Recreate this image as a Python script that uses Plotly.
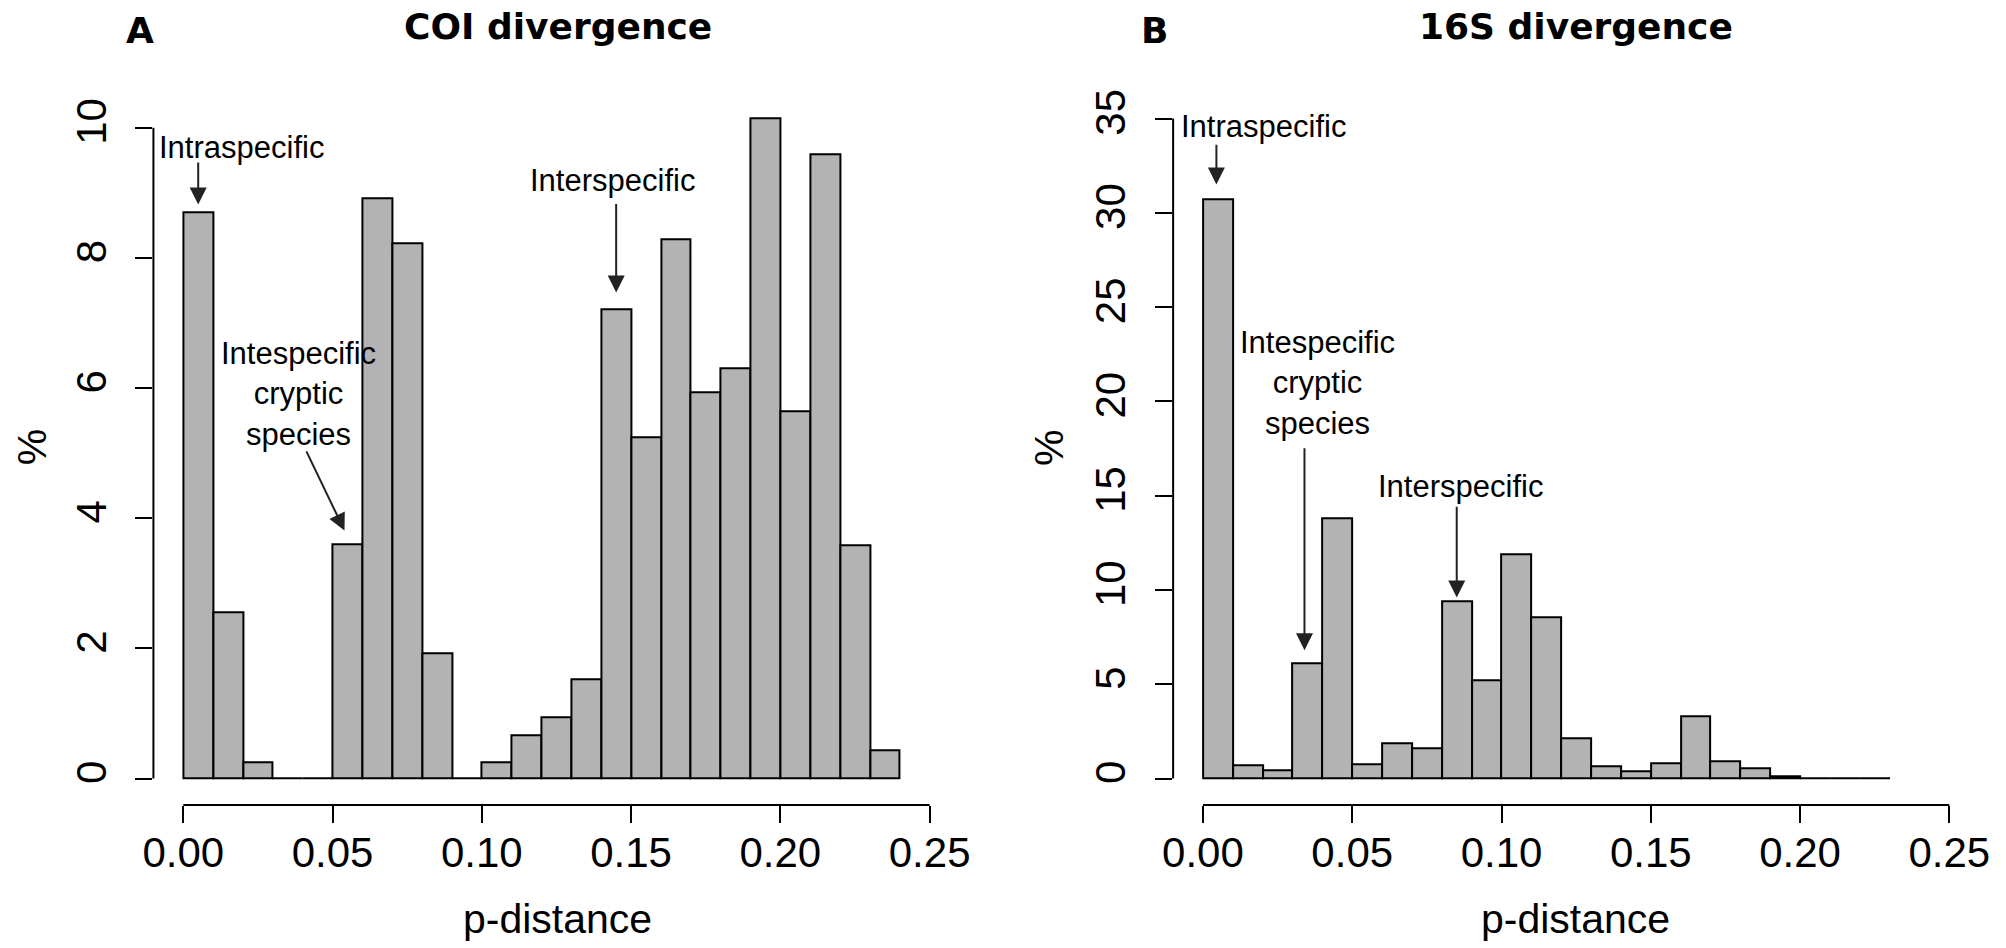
import plotly.graph_objects as go

# ---------------- data ----------------
bin_width = 0.01

coi_bin_left = [0.00, 0.01, 0.02, 0.03, 0.04, 0.05, 0.06, 0.07, 0.08, 0.09, 0.10, 0.11,
                0.12, 0.13, 0.14, 0.15, 0.16, 0.17, 0.18, 0.19, 0.20, 0.21, 0.22, 0.23]
coi_percent = [8.70, 2.55, 0.245, 0.0, 0.0, 3.60, 8.92, 8.23, 1.92, 0.0, 0.245, 0.66,
               0.94, 1.53, 7.21, 5.25, 8.28, 5.93, 6.31, 10.14, 5.65, 9.59, 3.58, 0.43]

s16_bin_left = [0.00, 0.01, 0.02, 0.03, 0.04, 0.05, 0.06, 0.07, 0.08, 0.09, 0.10, 0.11,
                0.12, 0.13, 0.14, 0.15, 0.16, 0.17, 0.18, 0.19, 0.20, 0.21, 0.22]
s16_percent = [30.71, 0.69, 0.42, 6.13, 13.81, 0.75, 1.90, 1.59, 9.41, 5.19, 11.88, 8.55,
               2.14, 0.64, 0.39, 0.83, 3.31, 0.92, 0.55, 0.10, 0.02, 0.02, 0.02]

x_tickvals = [0.00, 0.05, 0.10, 0.15, 0.20, 0.25]
x_ticktext = ["0.00", "0.05", "0.10", "0.15", "0.20", "0.25"]
coi_y_ticks = [0, 2, 4, 6, 8, 10]
s16_y_ticks = [0, 5, 10, 15, 20, 25, 30, 35]
s16_ylim = [0, 35]

# labels: (text, x, y) in data units
coi_labels = [("Intraspecific", 0.0195, 9.69),
              ("Intespecific<br>cryptic<br>species", 0.0387, 5.91),
              ("Interspecific", 0.1437, 9.19)]
s16_labels = [("Intraspecific", 0.0203, 34.6),
              ("Intespecific<br>cryptic<br>species", 0.0382, 21.0),
              ("Interspecific", 0.0862, 15.5)]
# arrows: (tail x, tail y, head x, head y)
coi_arrows = [(0.005, 9.49, 0.005, 8.82),
              (0.041, 5.05, 0.054, 3.81),
              (0.145, 8.85, 0.145, 7.47)]
s16_arrows = [(0.0045, 33.7, 0.0045, 31.5),
              (0.034, 17.6, 0.034, 6.8),
              (0.085, 14.5, 0.085, 9.6)]

FONT = "Liberation Sans, Arial, Helvetica, sans-serif"
BOLD_FONT = "DejaVu Sans, Liberation Sans, Arial, sans-serif"
W, H = 2006, 948

fig = go.Figure()
for xs, ys, xa, ya in [(coi_bin_left, coi_percent, "x", "y"),
                       (s16_bin_left, s16_percent, "x2", "y2")]:
    fig.add_trace(go.Bar(
        x=xs, y=ys, width=bin_width, offset=0,
        marker=dict(color="#B3B3B3", line=dict(color="black", width=2)),
        xaxis=xa, yaxis=ya, showlegend=False, hoverinfo="skip"))

# R-style ranges (4% extension)
xr = [0 - 0.04 * 0.25, 0.25 + 0.04 * 0.25]
coi_max = max(coi_percent)
coi_yr = [-0.04 * coi_max, coi_max * 1.04]
s16_yr = [s16_ylim[0] - 0.04 * s16_ylim[1], s16_ylim[1] * 1.04]

ydom = [1 - 804.5 / H, 1 - 89.5 / H]
xdom1 = [144 / W, 959 / W]
xdom2 = [1175 / W, 1990 / W]

tickfont = dict(family=FONT, size=42, color="black")
common_x = dict(range=xr, tickvals=x_tickvals, ticktext=x_ticktext, ticks="outside",
                ticklen=17, tickwidth=2, tickcolor="black", showgrid=False,
                zeroline=False, showline=False, tickfont=tickfont,
                ticklabelstandoff=-6, fixedrange=True)
common_y = dict(ticks="outside", ticklen=17, tickwidth=2, tickcolor="black",
                showgrid=False, zeroline=False, showline=False, tickfont=tickfont,
                tickangle=-90, ticklabelstandoff=13, fixedrange=True, domain=ydom)

fig.update_layout(
    width=W, height=H,
    margin=dict(l=0, r=0, t=0, b=0),
    paper_bgcolor="white", plot_bgcolor="white",
    bargap=0,
    xaxis=dict(domain=xdom1, anchor="y", **common_x),
    xaxis2=dict(domain=xdom2, anchor="y2", **common_x),
    yaxis=dict(anchor="x", range=coi_yr, tickvals=coi_y_ticks, **common_y),
    yaxis2=dict(anchor="x2", range=s16_yr, tickvals=s16_y_ticks, **common_y),
)

# axis lines spanning only the tick range (R style)
for xa, ya, ytop in [("x", "y", coi_y_ticks[-1]), ("x2", "y2", s16_y_ticks[-1])]:
    fig.add_shape(type="line", xref=xa, yref=ya + " domain", x0=x_tickvals[0],
                  x1=x_tickvals[-1], y0=0, y1=0, line=dict(color="black", width=2))
    fig.add_shape(type="line", xref=xa + " domain", yref=ya, x0=0, x1=0,
                  y0=0, y1=ytop, line=dict(color="black", width=2))

annots = []
for labels, arrows, xa, ya in [(coi_labels, coi_arrows, "x", "y"),
                               (s16_labels, s16_arrows, "x2", "y2")]:
    for t, x, y in labels:
        annots.append(dict(text=t, x=x, y=y, xref=xa, yref=ya, showarrow=False,
                           xanchor="center", yanchor="middle",
                           font=dict(family=FONT, size=31, color="black")))
    for tx, ty, hx, hy in arrows:
        annots.append(dict(text="", x=hx, y=hy, ax=tx, ay=ty, xref=xa, yref=ya,
                           axref=xa, ayref=ya, showarrow=True, arrowhead=2,
                           arrowsize=1.7, arrowwidth=2, arrowcolor="#222222",
                           standoff=0, startstandoff=0))

# panel letters, titles, axis titles (paper coords)
for letter, lx, title, tx, pct_x, pd_x in [("A", 130, "COI divergence", 553, 21, 553),
                                           ("B", 1156, "16S divergence", 1582, 1049, 1582)]:
    annots.append(dict(text="<b>" + letter + "</b>", x=lx / W, y=1 - 28 / H,
                       xref="paper", yref="paper", showarrow=False,
                       xanchor="center", yanchor="middle",
                       font=dict(family=BOLD_FONT, size=36, color="black")))
    annots.append(dict(text="<b>" + title + "</b>", x=tx / W, y=1 - 24 / H,
                       xref="paper", yref="paper", showarrow=False,
                       xanchor="center", yanchor="middle",
                       font=dict(family=BOLD_FONT, size=36, color="black")))
    annots.append(dict(text="%", x=pct_x / W, y=1 - 446 / H, textangle=-90,
                       xref="paper", yref="paper", showarrow=False,
                       xanchor="center", yanchor="middle",
                       font=dict(family=FONT, size=41, color="black")))
    annots.append(dict(text="p-distance", x=pd_x / W, y=1 - 919 / H,
                       xref="paper", yref="paper", showarrow=False,
                       xanchor="center", yanchor="middle",
                       font=dict(family=FONT, size=41, color="black")))

fig.update_layout(annotations=annots)
fig.write_html("out.html",
               config={"displayModeBar": False},
               post_script="document.body.style.margin='0px';"
                           "document.documentElement.style.overflow='hidden';")
